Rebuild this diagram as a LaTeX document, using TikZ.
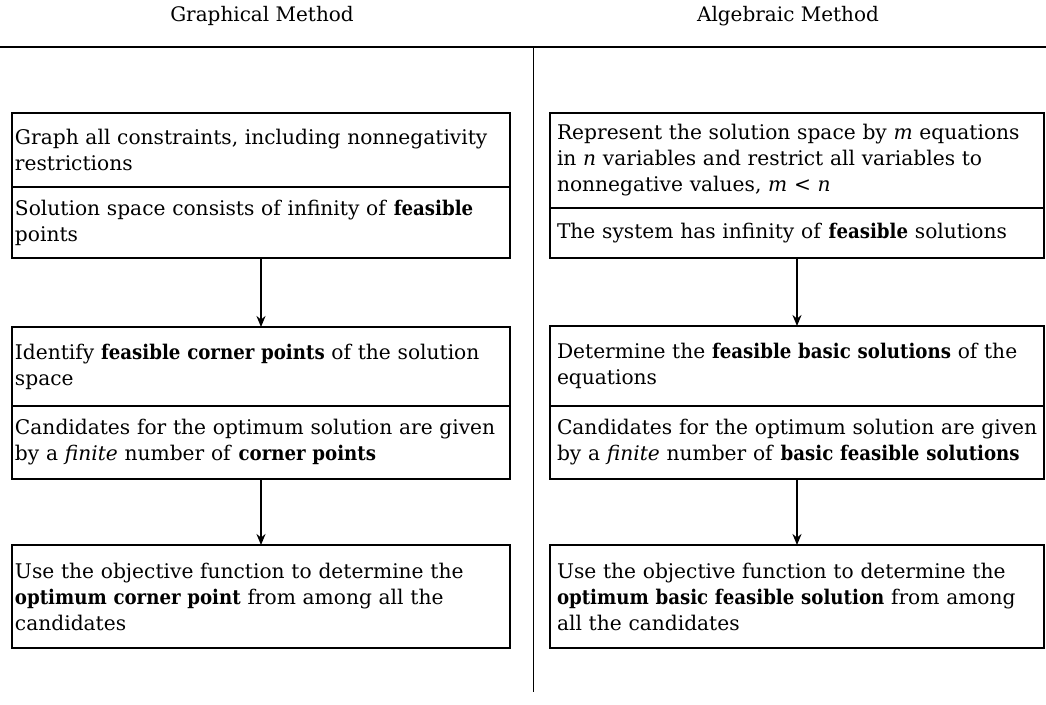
\documentclass[tikz,border=0pt]{standalone}
\usepackage{fontspec}
\setmainfont{DejaVu Serif}[BoldFeatures={FakeStretch=0.9}]
\usetikzlibrary{arrows.meta}
\newcommand{\oneline}[1]{\mbox{#1}}
\begin{document}
\begin{tikzpicture}[x=0.5pt,y=-0.5pt,
  sect/.style={draw,line width=0.8pt,rectangle,anchor=north west,outer sep=0pt,
    inner ysep=0pt,align=left,
    font=\fontsize{10.1}{13}\selectfont},
  lsect/.style={sect,inner xsep=1.5pt,minimum width=249pt,text width=246pt},
  rsect/.style={sect,inner xsep=3.5pt,minimum width=247pt,text width=240pt},
  title/.style={font=\fontsize{10}{12}\selectfont},
  arr/.style={line width=0.9pt,-{Stealth[length=5.5pt,width=4.5pt]}},
  rule/.style={line width=1pt},
  divider/.style={line width=0.5pt}]
\useasboundingbox (0,0) rectangle (1046,705);
% titles and rules
\node[title] (tg) at (262,16) {Graphical Method};
\node[title] (ta) at (788,16) {Algebraic Method};
\coordinate (hl) at (0,47);
\coordinate (hr) at (1046,47);
\coordinate (dtop) at (533,47);
\coordinate (dbot) at (533,692);
\draw[rule] (hl) -- (hr);
\draw[divider] (dtop) -- (dbot);
% left column
\node[lsect,minimum height=37pt] (L1a) at (12,113)
  {\oneline{Graph all constraints, including nonnegativity}\\\oneline{restrictions}};
\node[lsect,minimum height=35.5pt] (L1b) at (12,187)
  {\oneline{Solution space consists of infinity of \textbf{feasible}}\\\oneline{points}};
\node[lsect,minimum height=39.5pt] (L2a) at (12,327)
  {\oneline{Identify \textbf{feasible corner points} of the solution}\\\oneline{space}};
\node[lsect,minimum height=36.5pt] (L2b) at (12,406)
  {\oneline{Candidates for the optimum solution are given}\\\oneline{by a \textit{finite} number of \textbf{corner points}}};
\node[lsect,minimum height=51.5pt] (L3) at (12,545)
  {\oneline{Use the objective function to determine the}\\\oneline{\textbf{optimum corner point} from among all the}\\\oneline{candidates}};
% right column
\node[rsect,minimum height=47.5pt] (R1a) at (550,113)
  {\oneline{Represent the solution space by \textit{m} equations}\\\oneline{in \textit{n} variables and restrict all variables to}\\\oneline{nonnegative values, \textit{m} < \textit{n}}};
\node[rsect,minimum height=25pt] (R1b) at (550,208)
  {\oneline{The system has infinity of \textbf{feasible} solutions}};
\node[rsect,minimum height=40pt] (R2a) at (550,326)
  {\oneline{Determine the \textbf{feasible basic solutions} of the}\\\oneline{equations}};
\node[rsect,minimum height=36.5pt] (R2b) at (550,406)
  {\oneline{Candidates for the optimum solution are given}\\\oneline{by a \textit{finite} number of \textbf{basic feasible solutions}}};
\node[rsect,minimum height=51.5pt] (R3) at (550,545)
  {\oneline{Use the objective function to determine the}\\\oneline{\textbf{optimum basic feasible solution} from among}\\\oneline{all the candidates}};
% arrows
\draw[arr] (L1b.south) -- (L2a.north);
\draw[arr] (L2b.south) -- (L3.north);
\draw[arr] (R1b.south) -- (R2a.north);
\draw[arr] (R2b.south) -- (R3.north);
\end{tikzpicture}
\end{document}
